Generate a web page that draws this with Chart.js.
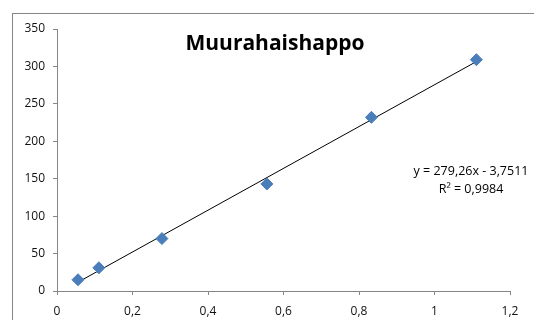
<!DOCTYPE html>
<html>
<head>
<meta charset="utf-8">
<script src="https://cdn.jsdelivr.net/npm/chart.js@4"></script>
<style>
  html, body { margin: 0; padding: 0; background: #fff; }
  canvas { display: block; }
</style>
</head>
<body>
<canvas id="chart" width="534" height="320"></canvas>
<script>
// pitoisuus (x) ja mitattu arvo (y)
const xValues = [0.0556, 0.111, 0.278, 0.556, 0.833, 1.111];
const yValues = [15, 31, 70, 143, 232, 309];
const yTicks = [0, 50, 100, 150, 200, 250, 300, 350];
const xTicks = [0, 0.2, 0.4, 0.6, 0.8, 1, 1.2];

const chartTitle = 'Muurahaishappo';
const slope = 279.26;
const intercept = -3.7511;
const rSquared = 0.9984;

const fi = v => String(Math.round(v * 10000) / 10000).replace('.', ',');

const points = xValues.map((x, i) => ({ x: x, y: yValues[i] }));
const xFirst = xValues[0];
const xLast = xValues[xValues.length - 1];
const trend = [
  { x: xFirst, y: slope * xFirst + intercept },
  { x: xLast, y: slope * xLast + intercept }
];

const axisGray = '#868686';

// kehys, otsikko ja trendiviivan yhtälö
const decorations = {
  id: 'decorations',
  beforeDraw(chart) {
    const ctx = chart.ctx;
    ctx.save();
    ctx.strokeStyle = axisGray;
    ctx.lineWidth = 1;
    ctx.strokeRect(12.5, 13.5, 600, 400);
    ctx.restore();
  },
  afterDraw(chart) {
    const ctx = chart.ctx;
    ctx.save();
    ctx.fillStyle = '#000';
    ctx.textAlign = 'center';
    ctx.textBaseline = 'alphabetic';
    ctx.font = 'bold 21px "Open Sans"';
    ctx.fillText(chartTitle, 275, 50);
    ctx.font = '12.5px "Open Sans"';
    ctx.fillText('y = ' + fi(slope) + 'x - ' + fi(-intercept), 471, 175);
    ctx.fillText('R² = ' + fi(rSquared), 471, 193);
    ctx.restore();
  }
};

new Chart(document.getElementById('chart'), {
  type: 'scatter',
  data: {
    datasets: [{
      label: 'Mittaukset',
      data: points,
      pointStyle: 'rectRot',
      pointRadius: 6,
      backgroundColor: '#4a7ebb',
      borderColor: '#4a7ebb',
      borderWidth: 1,
      order: 1
    }, {
      type: 'line',
      label: 'Trendi',
      data: trend,
      borderColor: '#000',
      borderWidth: 1,
      pointRadius: 0,
      fill: false,
      order: 2
    }]
  },
  options: {
    responsive: false,
    animation: false,
    devicePixelRatio: 1,
    layout: { padding: { top: 29, right: 24, left: 0, bottom: 0 } },
    plugins: {
      legend: { display: false },
      tooltip: { enabled: false }
    },
    scales: {
      x: {
        type: 'linear',
        min: 0,
        max: 1.2,
        afterBuildTicks: s => { s.ticks = xTicks.map(v => ({ value: v })); },
        afterFit: s => { s.height = 29; },
        border: { color: axisGray },
        grid: { drawOnChartArea: false, drawTicks: true, tickLength: 4, color: axisGray },
        ticks: {
          color: '#111',
          padding: 9,
          maxRotation: 0,
          font: { family: 'Open Sans', size: 12 },
          callback: v => fi(v)
        }
      },
      y: {
        min: 0,
        max: 350,
        afterBuildTicks: s => { s.ticks = yTicks.map(v => ({ value: v })); },
        afterFit: s => { s.width = 57; },
        border: { color: axisGray },
        grid: { drawOnChartArea: false, drawTicks: true, tickLength: 4, color: axisGray },
        ticks: {
          color: '#111',
          padding: 8,
          font: { family: 'Open Sans', size: 12 },
          callback: v => fi(v)
        }
      }
    }
  },
  plugins: [decorations]
});
</script>
</body>
</html>
